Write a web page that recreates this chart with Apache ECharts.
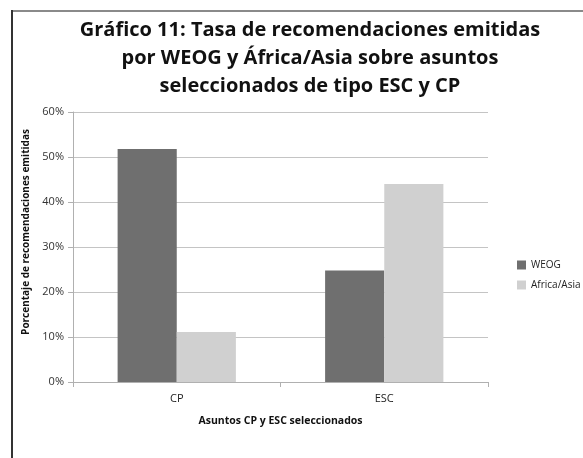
<!DOCTYPE html>
<html>
<head>
<meta charset="utf-8">
<script src="https://cdn.jsdelivr.net/npm/echarts@6/dist/echarts.min.js"></script>
<style>
  html, body { margin: 0; padding: 0; background: #fff; }
  #main { width: 583px; height: 458px; }
</style>
</head>
<body>
<div id="main"></div>
<script>
// datos
var categories = ['CP', 'ESC'];
var weogValues = [0.518, 0.248];
var africaAsiaValues = [0.111, 0.44];
var yTicks = [0, 0.1, 0.2, 0.3, 0.4, 0.5, 0.6];

var chartDom = document.getElementById('main');
var myChart = echarts.init(chartDom, null, { renderer: 'canvas' });
var option;

var fontFam = '"Open Sans", "Liberation Sans", sans-serif';

option = {
    backgroundColor: '#ffffff',
    animation: false,
    title: {
        text: 'Gráfico 11: Tasa de recomendaciones emitidas\npor WEOG y África/Asia sobre asuntos\nseleccionados de tipo ESC y CP',
        left: 305,
        top: 11,
        textAlign: 'center',
        textStyle: {
            fontFamily: fontFam,
            fontWeight: 'bold',
            fontSize: 20,
            lineHeight: 28,
            color: '#111'
        }
    },
    graphic: [
        { type: 'line', shape: { x1: 12, y1: 11, x2: 583, y2: 11 }, style: { stroke: '#8a8a8a', lineWidth: 2 } },
        { type: 'line', shape: { x1: 12, y1: 10, x2: 12, y2: 458 }, style: { stroke: '#333', lineWidth: 2 } }
    ],
    legend: {
        orient: 'vertical',
        left: 512,
        top: 255,
        itemWidth: 9,
        itemHeight: 9,
        itemGap: 10,
        icon: 'rect',
        textStyle: { fontFamily: fontFam, fontSize: 10, color: '#222' },
        data: ['WEOG', 'Africa/Asia']
    },
    grid: {
        left: 73,
        right: 95,
        top: 112,
        bottom: 76,
        containLabel: false
    },
    xAxis: {
        type: 'category',
        data: categories,
        name: 'Asuntos CP y ESC seleccionados',
        nameLocation: 'middle',
        nameGap: 34,
        nameTextStyle: { fontFamily: fontFam, fontWeight: 'bold', fontSize: 10.5, color: '#111' },
        axisLine: { lineStyle: { color: '#b0b0b0', width: 1 } },
        axisTick: { show: true, length: 5, lineStyle: { color: '#b0b0b0' } },
        axisLabel: { fontFamily: fontFam, fontSize: 11, color: '#222', margin: 11 }
    },
    yAxis: {
        type: 'value',
        min: 0,
        max: 0.6,
        interval: 0.1,
        name: 'Porcentaje de recomendaciones emitidas',
        nameLocation: 'middle',
        nameGap: 39,
        nameTextStyle: { fontFamily: fontFam, fontWeight: 'bold', fontSize: 10, color: '#111', padding: [0, 0, 0, 30] },
        axisLine: { show: true, lineStyle: { color: '#b0b0b0' } },
        axisTick: { show: true, length: 5, inside: false, lineStyle: { color: '#b0b0b0' } },
        splitLine: { lineStyle: { color: '#c4c4c4', width: 1 } },
        axisLabel: {
            fontFamily: fontFam,
            fontSize: 11,
            color: '#333',
            margin: 9,
            formatter: function (v) {
                return Math.round(v * 100) + '%';
            }
        }
    },
    series: [
        {
            name: 'WEOG',
            type: 'bar',
            data: weogValues,
            barGap: '0%',
            barCategoryGap: '43%',
            itemStyle: { color: '#6f6f6f' }
        },
        {
            name: 'Africa/Asia',
            type: 'bar',
            data: africaAsiaValues,
            itemStyle: { color: '#d0d0d0' }
        }
    ]
};

if (option && typeof option === 'object') {
    myChart.setOption(option);
}
</script>
</body>
</html>
